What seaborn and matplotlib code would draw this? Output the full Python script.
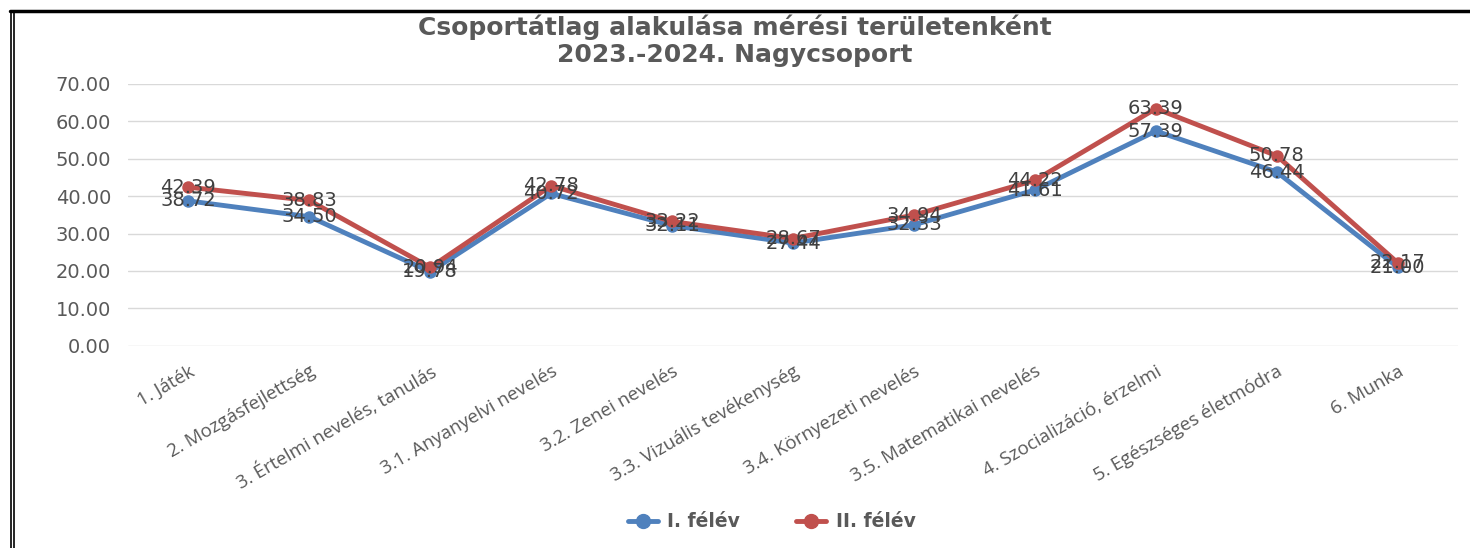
import matplotlib
matplotlib.use("Agg")

import pandas as pd
import matplotlib.pyplot as plt
import seaborn as sns
from matplotlib.lines import Line2D

# ==========================
# Data
# ==========================
categories = [
    "1. Játék",
    "2. Mozgásfejlettség",
    "3. Értelmi nevelés, tanulás",
    "3.1. Anyanyelvi nevelés",
    "3.2. Zenei nevelés",
    "3.3. Vizuális tevékenység",
    "3.4. Környezeti nevelés",
    "3.5. Matematikai nevelés",
    "4. Szocializáció, érzelmi",
    "5. Egészséges életmódra",
    "6. Munka",
]
felev_1 = [38.72, 34.50, 19.78, 40.72, 32.11, 27.44, 32.33, 41.61, 57.39, 46.44, 21.00]
felev_2 = [42.39, 38.83, 20.94, 42.78, 33.22, 28.67, 34.94, 44.22, 63.39, 50.78, 22.17]
series_names = ["I. félév", "II. félév"]
colors = ["#4F81BD", "#C0504D"]

df = pd.DataFrame({
    "terulet": categories * 2,
    "atlag": felev_1 + felev_2,
    "felev": [series_names[0]] * len(categories) + [series_names[1]] * len(categories),
})

# ==========================
# Plot
# ==========================
sns.set_theme(style="white")
plt.rcParams["font.family"] = ["DejaVu Sans"]

fig = plt.figure(figsize=(14.7, 5.48), dpi=100)
ax = fig.add_axes([0.087, 0.369, 0.905, 0.478])

sns.lineplot(
    data=df, x="terulet", y="atlag", hue="felev",
    palette=colors, marker="o", markersize=9, markeredgewidth=0,
    linewidth=3.5, sort=False, ax=ax, legend=False,
)

# data labels centred on the markers (Excel style)
for vals in (felev_1, felev_2):
    for i, v in enumerate(vals):
        ax.text(i, v, "%.2f" % v, ha="center", va="center",
                fontsize=14, color="#404040")

ax.set_xlim(-0.5, len(categories) - 0.5)
ax.set_ylim(0, 70)
ax.set_yticks(range(0, 71, 10))
ax.set_yticklabels(["%.2f" % t for t in range(0, 71, 10)], fontsize=14, color="#595959")
ax.set_xticks(range(len(categories)))
ax.set_xticklabels(categories, rotation=30, ha="right", rotation_mode="anchor",
                   fontsize=13.5, color="#595959", family="Open Sans")
ax.tick_params(axis="y", length=0, pad=12)
ax.tick_params(axis="x", length=0, pad=12)
ax.set_xlabel("")
ax.set_ylabel("")
ax.grid(axis="y", color="#D9D9D9", linewidth=1)
for s in ax.spines.values():
    s.set_visible(False)

fig.text(0.5, 0.925, "Csoportátlag alakulása mérési területenként\n2023.-2024. Nagycsoport",
         ha="center", va="center", fontsize=18, fontweight="bold", color="#595959",
         family="DejaVu Sans", linespacing=1.15)

handles = [Line2D([], [], color=c, linewidth=3.5, marker="o", markersize=10) for c in colors]
fig.legend(handles, series_names, loc="center", bbox_to_anchor=(0.525, 0.048), ncol=2,
           frameon=False, handlelength=1.6, columnspacing=3.0, handletextpad=0.5,
           labelcolor="#595959", prop={"family": "DejaVu Sans", "weight": "bold", "size": 13.5})

# page border (double line on the left, thick line on top)
fig.add_artist(Line2D([0.0075, 0.0075], [0, 0.98], color="black", linewidth=1.2, transform=fig.transFigure))
fig.add_artist(Line2D([0.0095, 0.0095], [0, 0.98], color="black", linewidth=1.2, transform=fig.transFigure))
fig.add_artist(Line2D([0.0068, 1.0], [0.98, 0.98], color="black", linewidth=2.5, transform=fig.transFigure))

fig.savefig("out.png", dpi=100)
plt.close(fig)
